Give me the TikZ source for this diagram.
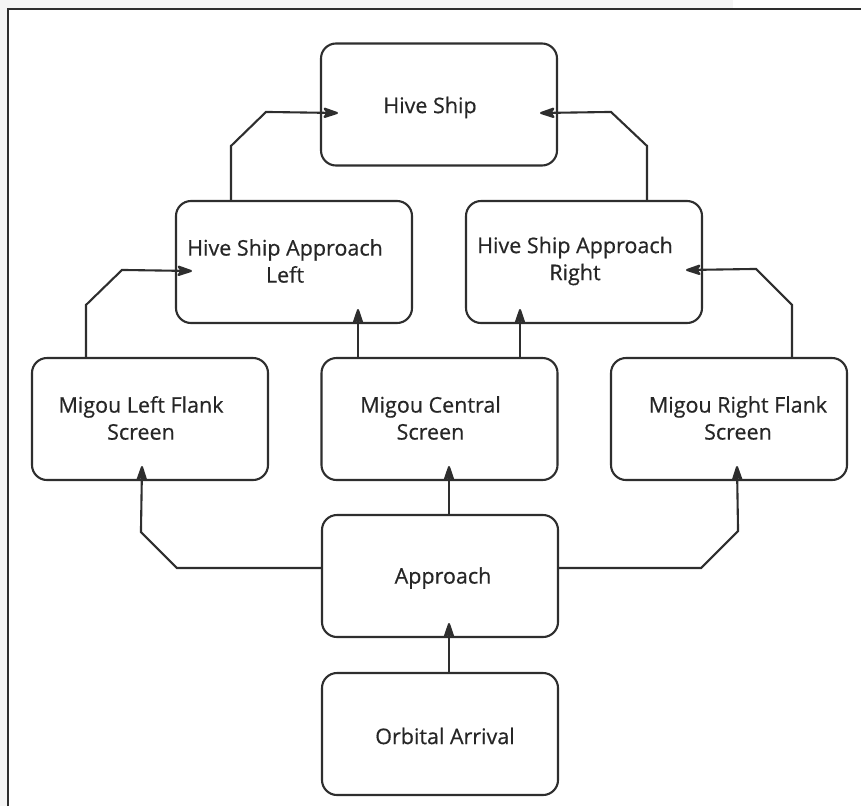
\documentclass[tikz,border=0pt]{standalone}
\usepackage{fontspec}
\setmainfont{Open Sans}[FakeBold=0.5]
\usetikzlibrary{calc,arrows.meta}
\definecolor{ln}{HTML}{2E2E2E}
\definecolor{tx}{HTML}{262626}
\definecolor{bgg}{HTML}{F5F5F5}
\tikzset{
  box/.style={draw=ln, line width=2.1pt, rounded corners=15pt, minimum width=236pt, minimum height=122pt, inner sep=0pt, fill=white},
  txt/.style={align=center, text=tx, font=\fontsize{21.5}{27}\selectfont, inner sep=0pt},
  arr/.style={draw=ln, line width=2.1pt, >={Stealth[length=18pt,width=12pt,inset=4pt,round=false]}, ->},
  conn/.style={draw=ln, line width=2.1pt}
}
\begin{document}
\begin{tikzpicture}[x=1pt,y=-1pt]
\useasboundingbox (0,0) rectangle (861,806);
\fill[bgg] (0,0) rectangle (733,9);
\fill[bgg] (0,0) rectangle (8,806);
\draw[ln, line width=1.8pt] (8,806) -- (8,9) -- (861,9);

\node[box] (hive) at (439,104.5) {};
\node[box] (hsal) at (294,262) {};
\node[box] (hsar) at (584,262) {};
\node[box] (mgl) at (150,419) {};
\node[box] (mgc) at (439.5,419) {};
\node[box] (mgr) at (729,419) {};
\node[box] (appr) at (440,576) {};
\node[box] (orb) at (440,734) {};

\node[txt] (thive) at ($(hive.center)+(-9,3)$) {Hive Ship};
\node[txt] (thsal) at ($(hsal.center)+(-9,-1)$) {Hive Ship Approach\\Left};
\node[txt] (thsar) at ($(hsar.center)+(-9,-1)$) {Hive Ship Approach\\Right};
\node[txt] (tmgl) at ($(mgl.center)+(-9,-1)$) {Migou Left Flank\\Screen};
\node[txt] (tmgc) at ($(mgc.center)+(-9,-1)$) {Migou Central\\Screen};
\node[txt] (tmgr) at ($(mgr.center)+(9,-1)$) {Migou Right Flank\\Screen};
\node[txt] (tappr) at ($(appr.center)+(3,2)$) {Approach};
\node[txt] (torb) at ($(orb.center)+(5,2)$) {Orbital Arrival};

% Orbital -> Approach
\draw[arr] ($(orb.north)+(9,0)$) -- ($(appr.south)+(9,-15)$);
% Approach -> Migou Central
\draw[arr] ($(appr.north)+(9,0)$) -- ($(mgc.south)+(9.5,-15)$);
% Approach -> Migou Left
\draw[arr] ($(appr.west)+(0,-8)$) -- ++(-144,0) -- ++(-36,-36) -- ($(mgl.south)+(-8,-15)$);
% Approach -> Migou Right
\draw[arr] ($(appr.east)+(0,-8)$) -- ++(142,0) -- ++(37,-37) -- ($(mgr.south)+(8,-15)$);
% Migou Left -> HSA Left
\draw[arr] ($(mgl.north)+(-64,0)$) -- ++(0,-52) -- ++(36,-35) -- ($(hsal.west)+(17,9)$);
% Migou Central -> HSA Left / Right
\draw[arr] ($(mgc.north)+(-81.5,0)$) -- ($(hsal.south)+(64,-15)$);
\draw[arr] ($(mgc.north)+(80.5,0)$) -- ($(hsar.south)+(-64,-15)$);
% Migou Right -> HSA Right
\draw[arr] ($(mgr.north)+(63,0)$) -- ++(0,-52) -- ++(-36,-36) -- ($(hsar.east)+(-17,8)$);
% HSA Left -> Hive
\draw[arr] ($(hsal.north)+(-63,0)$) -- ++(0,-54) -- ++(35,-34) -- ($(hive.west)+(18,8.5)$);
% HSA Right -> Hive
\draw[arr] ($(hsar.north)+(63,0)$) -- ++(0,-54) -- ++(-36,-34) -- ($(hive.east)+(-18,8.5)$);
\end{tikzpicture}
\end{document}
